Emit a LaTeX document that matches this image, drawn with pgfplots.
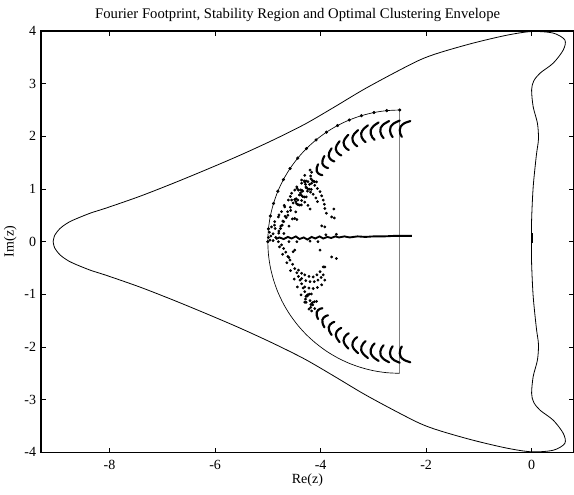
\documentclass[border=0pt]{standalone}
\usepackage{fontspec}
\setmainfont{Liberation Serif}
\usepackage{pgfplots}
\pgfplotsset{compat=1.18}
\pgfplotsset{
  hook/.style={black, line width=1.6pt, smooth, no marks, line cap=round},
  dots/.style={black, only marks, mark=*, mark size=0.85pt},
}
\begin{document}
\fontsize{10.5}{12}\selectfont
\begin{tikzpicture}
\begin{axis}[
  at={(30.75pt,32pt)}, anchor=south west,
  scale only axis, width=399.6pt, height=316pt,
  xmin=-9.3, xmax=0.8, ymin=-4, ymax=4,
  xtick={-8,-6,-4,-2,0}, ytick={-4,-3,-2,-1,0,1,2,3,4},
  tick align=inside, major tick length=3.5pt,
  axis line style={line width=0.8pt},
  every tick/.style={black, line width=0.6pt},
  /pgf/number format/assume math mode=true,
  ticklabel style={font=\fontsize{10.5}{12}\selectfont},
  xticklabel style={yshift=-2.5pt},
  title={Fourier Footprint, Stability Region and Optimal Clustering Envelope},
  every axis title/.style={at={(axis description cs:0.4817,1.030)}, anchor=base, font=\fontsize{11}{13}\selectfont},
  xlabel={Re(z)}, ylabel={Im(z)},
  xlabel style={at={(axis description cs:0.5,-0.0665)}, anchor=center, font=\fontsize{10.5}{12}\selectfont},
  ylabel style={at={(axis description cs:-0.0576,0.5)}, anchor=center, font=\fontsize{10.5}{12}\selectfont},
]
% outer stability region
\addplot[black, line width=0.6pt, smooth, tension=0.5] coordinates {
(-9.07,0) (-9.04,0.12) (-8.94,0.25) (-8.82,0.34) (-8.69,0.41) (-8.37,0.54) (-8.06,0.64)
(-7.43,0.86) (-6.79,1.11) (-6.16,1.37) (-5.53,1.64) (-4.9,1.93) (-4.3,2.23) (-3.75,2.55)
(-3.2,2.88) (-2.65,3.18) (-2.12,3.45) (-1.74,3.59) (-1.11,3.77) (-0.47,3.92) (0,3.99)
(0.41,3.96) (0.63,3.83) (0.60,3.64) (0.41,3.39) (0.16,3.20) (0.04,3.05) (0,2.88)
(0.03,2.56) (0.11,2.25) (0.13,1.95) (0.09,1.64) (0.03,1.04) (0,0.41) (0,0)
(0,-0.41) (0.03,-1.04) (0.09,-1.64) (0.13,-1.95) (0.11,-2.25) (0.03,-2.56) (0,-2.88)
(0.04,-3.05) (0.16,-3.20) (0.41,-3.39) (0.60,-3.64) (0.63,-3.83) (0.41,-3.96) (0,-3.99)
(-0.47,-3.92) (-1.11,-3.77) (-1.74,-3.59) (-2.12,-3.45) (-2.65,-3.18) (-3.2,-2.88)
(-3.75,-2.55) (-4.3,-2.23) (-4.9,-1.93) (-5.53,-1.64) (-6.16,-1.37) (-6.79,-1.11)
(-7.43,-0.86) (-8.06,-0.64) (-8.37,-0.54) (-8.69,-0.41) (-8.82,-0.34) (-8.94,-0.25)
(-9.04,-0.12) (-9.07,0)
};
% clustering envelope: half disc
\addplot[gray, line width=0.7pt] coordinates {(-2.5,-2.5) (-2.5,2.5)};
\addplot[black, line width=0.5pt, smooth] coordinates {
(-2.5,2.5) (-2.745,2.488) (-2.988,2.452) (-3.226,2.392) (-3.457,2.310) (-3.679,2.205)
(-3.889,2.079) (-4.086,1.932) (-4.268,1.768) (-4.433,1.586) (-4.579,1.389) (-4.705,1.179)
(-4.810,0.957) (-4.892,0.726) (-4.952,0.488) (-4.988,0.245) (-5,0)
(-4.988,-0.245) (-4.952,-0.488) (-4.892,-0.726) (-4.810,-0.957) (-4.705,-1.179)
(-4.579,-1.389) (-4.433,-1.586) (-4.268,-1.768) (-4.086,-1.932) (-3.889,-2.079)
(-3.679,-2.205) (-3.457,-2.310) (-3.226,-2.392) (-2.988,-2.452) (-2.745,-2.488) (-2.5,-2.5)
};
\addplot[dots, mark size=1pt] coordinates {
(-2.5,2.5) (-2.745,2.488) (-2.988,2.452) (-3.226,2.392) (-3.457,2.310) (-3.679,2.205)
(-3.889,2.079) (-4.086,1.932) (-4.268,1.768) (-4.433,1.586) (-4.579,1.389) (-4.705,1.179)
(-4.810,0.957) (-4.892,0.726) (-4.952,0.488) (-4.988,0.245) (-5,0)
};
% Fourier footprint: hooks (upper)
\addplot[hook] coordinates {(-2.30,2.29) (-2.41,2.25) (-2.48,2.19) (-2.50,2.12) (-2.49,2.05) (-2.46,1.99)};
\addplot[hook] coordinates {(-2.500,2.299) (-2.607,2.249) (-2.671,2.183) (-2.685,2.112) (-2.669,2.043) (-2.634,1.986)};
\addplot[hook] coordinates {(-2.701,2.290) (-2.802,2.231) (-2.861,2.160) (-2.868,2.088) (-2.846,2.021) (-2.806,1.967)};
\addplot[hook] coordinates {(-2.900,2.264) (-2.995,2.197) (-3.048,2.121) (-3.049,2.048) (-3.021,1.983) (-2.976,1.933)};
\addplot[hook] coordinates {(-3.102,2.209) (-3.187,2.137) (-3.230,2.061) (-3.225,1.992) (-3.193,1.933) (-3.147,1.889)};
\addplot[hook] coordinates {(-3.289,2.118) (-3.364,2.044) (-3.398,1.968) (-3.388,1.903) (-3.353,1.850) (-3.305,1.812)};
\addplot[hook] coordinates {(-3.475,2.029) (-3.539,1.953) (-3.565,1.879) (-3.550,1.819) (-3.513,1.771) (-3.465,1.740)};
\addplot[hook] coordinates {(-3.640,1.907) (-3.694,1.830) (-3.712,1.759) (-3.693,1.704) (-3.654,1.663) (-3.607,1.637)};
\addplot[hook] coordinates {(-3.791,1.772) (-3.835,1.696) (-3.846,1.628) (-3.824,1.578) (-3.785,1.543) (-3.739,1.523)};
\addplot[hook] coordinates {(-3.928,1.626) (-3.962,1.551) (-3.967,1.487) (-3.943,1.443) (-3.903,1.413) (-3.858,1.398)};
\addplot[hook] coordinates {(-4.048,1.469) (-4.074,1.398) (-4.074,1.338) (-4.047,1.299) (-4.008,1.274) (-3.966,1.264)};
% hooks (lower)
\addplot[hook] coordinates {(-2.30,-2.29) (-2.41,-2.25) (-2.48,-2.19) (-2.50,-2.12) (-2.49,-2.05) (-2.46,-1.99)};
\addplot[hook] coordinates {(-2.500,-2.299) (-2.607,-2.249) (-2.671,-2.183) (-2.685,-2.112) (-2.669,-2.043) (-2.634,-1.986)};
\addplot[hook] coordinates {(-2.701,-2.290) (-2.802,-2.231) (-2.861,-2.160) (-2.868,-2.088) (-2.846,-2.021) (-2.806,-1.967)};
\addplot[hook] coordinates {(-2.900,-2.264) (-2.995,-2.197) (-3.048,-2.121) (-3.049,-2.048) (-3.021,-1.983) (-2.976,-1.933)};
\addplot[hook] coordinates {(-3.102,-2.209) (-3.187,-2.137) (-3.230,-2.061) (-3.225,-1.992) (-3.193,-1.933) (-3.147,-1.889)};
\addplot[hook] coordinates {(-3.289,-2.118) (-3.364,-2.044) (-3.398,-1.968) (-3.388,-1.903) (-3.353,-1.850) (-3.305,-1.812)};
\addplot[hook] coordinates {(-3.475,-2.029) (-3.539,-1.953) (-3.565,-1.879) (-3.550,-1.819) (-3.513,-1.771) (-3.465,-1.740)};
\addplot[hook] coordinates {(-3.640,-1.907) (-3.694,-1.830) (-3.712,-1.759) (-3.693,-1.704) (-3.654,-1.663) (-3.607,-1.637)};
\addplot[hook] coordinates {(-3.791,-1.772) (-3.835,-1.696) (-3.846,-1.628) (-3.824,-1.578) (-3.785,-1.543) (-3.739,-1.523)};
\addplot[hook] coordinates {(-3.928,-1.626) (-3.962,-1.551) (-3.967,-1.487) (-3.943,-1.443) (-3.903,-1.413) (-3.858,-1.398)};
\addplot[hook] coordinates {(-4.048,-1.469) (-4.074,-1.398) (-4.074,-1.338) (-4.047,-1.299) (-4.008,-1.274) (-3.966,-1.264)};
% near-axis branch
\addplot[black, line width=1.4pt] coordinates {
(-4.85,0.05) (-4.78,0.08) (-4.70,0.05) (-4.62,0.09) (-4.55,0.06) (-4.47,0.10) (-4.40,0.05)
(-4.32,0.08) (-4.25,0.04) (-4.17,0.09) (-4.10,0.06) (-4.02,0.10) (-3.95,0.06) (-3.87,0.09)
(-3.80,0.07) (-3.72,0.10) (-3.65,0.08) (-3.55,0.10) (-3.45,0.08) (-3.30,0.10) (-3.15,0.09)
(-3.00,0.10) (-2.80,0.10) (-2.60,0.11) (-2.40,0.11) (-2.27,0.11)
};
\addplot[black, line width=1.5pt] coordinates {(0,-0.02) (0,0.16)};
% scattered eigenvalues
\addplot[dots] coordinates {
(-4.170,1.316) (-4.188,1.248) (-4.182,1.193) (-4.155,1.159) (-4.117,1.140) (-4.077,1.134)
(-4.275,1.152) (-4.286,1.089) (-4.277,1.039) (-4.249,1.010) (-4.213,0.996) (-4.176,0.993)
(-4.375,0.984) (-4.380,0.926) (-4.367,0.882) (-4.340,0.858) (-4.306,0.848) (-4.272,0.849)
(-4.468,0.812) (-4.468,0.759) (-4.453,0.720) (-4.426,0.701) (-4.395,0.695) (-4.365,0.698)
(-4.20,1.36) (-4.30,1.26) (-4.36,1.17) (-4.45,1.04) (-4.55,0.92) (-4.61,0.79) (-4.68,0.66)
(-4.74,0.57) (-4.80,0.47) (-4.87,0.38) (-4.93,0.28) (-4.97,0.18) (-4.99,0.08)
(-4.567,0.593) (-4.471,0.565) (-4.652,0.457) (-4.534,0.432) (-4.728,0.313) (-4.599,0.295)
(-4.794,0.161) (-4.695,0.154) (-4.62,0.50) (-4.70,0.38) (-4.76,0.25) (-4.86,0.25)
(-4.90,0.15) (-4.96,0.03) (-4.85,0.08)
(-4.138,1.147) (-4.275,1.025) (-4.403,0.887) (-4.520,0.735) (-4.625,0.569) (-4.716,0.391) (-4.791,0.201)
(-4.208,1.088) (-4.341,0.958) (-4.463,0.813) (-4.574,0.654) (-4.672,0.481) (-4.755,0.297)
(-4.309,1.153) (-4.447,1.013) (-4.574,0.859) (-4.689,0.690) (-4.789,0.508) (-4.874,0.313) (-4.943,0.107)
(-4.36,1.11) (-4.30,1.13) (-4.24,1.14) (-4.17,1.11) (-4.11,1.07) (-4.06,1.01) (-4.01,0.95)
(-3.98,0.87) (-3.95,0.79) (-3.93,0.71) (-3.92,0.63) (-3.89,0.54)
(-4.49,0.98) (-4.42,0.98) (-4.35,0.97) (-4.25,0.96) (-4.19,0.94) (-4.14,0.90) (-4.09,0.83) (-4.06,0.76)
(-4.55,0.79) (-4.49,0.80) (-4.43,0.79) (-4.36,0.78) (-4.30,0.75) (-4.24,0.69) (-4.20,0.62)
(-3.79,0.47) (-3.74,0.45) (-3.92,0.28) (-3.98,0.30) (-4.49,0.44) (-4.45,0.42) (-3.75,0.62)
(-4.170,-1.316) (-4.188,-1.248) (-4.182,-1.193) (-4.155,-1.159) (-4.117,-1.140) (-4.077,-1.134)
(-4.275,-1.152) (-4.286,-1.089) (-4.277,-1.039) (-4.249,-1.010) (-4.213,-0.996) (-4.176,-0.993)
(-4.80,0.00) (-4.74,-0.06) (-4.70,-0.13) (-4.66,-0.20) (-4.62,-0.28) (-4.58,-0.35) (-4.53,-0.43)
(-4.49,-0.51) (-4.45,-0.59) (-4.42,-0.66) (-4.39,-0.73) (-4.36,-0.80) (-4.33,-0.88) (-4.30,-0.95)
(-4.25,-1.03) (-4.20,-1.12) (-4.15,-1.20) (-4.11,-1.27)
(-4.78,-0.10) (-4.72,-0.24) (-4.64,-0.40) (-4.57,-0.55) (-4.50,-0.71) (-4.44,-0.86) (-4.37,-1.01)
(-4.30,-1.15) (-4.22,-1.28)
(-4.42,-0.54) (-4.36,-0.60) (-4.30,-0.63) (-4.22,-0.66) (-4.14,-0.67) (-4.07,-0.63) (-4.01,-0.57) (-3.95,-0.48)
(-4.36,-0.70) (-4.28,-0.74) (-4.20,-0.76) (-4.12,-0.76) (-4.05,-0.73) (-3.99,-0.68) (-3.95,-0.63)
(-4.30,-0.86) (-4.22,-0.88) (-4.14,-0.89) (-4.06,-0.87) (-3.98,-0.82) (-3.92,-0.73)
(-4.49,-0.16) (-4.52,-0.19) (-4.01,-0.16) (-3.79,-0.29) (-3.70,-0.32) (-3.92,-0.48) (-4.60,-0.30)
(-4.60,0.00) (-4.45,0.00) (-4.20,0.01) (-4.05,0.00) (-3.90,0.13) (-3.70,0.14) (-4.90,0.02)
};
\end{axis}
\pgfresetboundingbox
\path (0,0) rectangle (430.5pt,371.25pt);
\end{tikzpicture}
\end{document}
